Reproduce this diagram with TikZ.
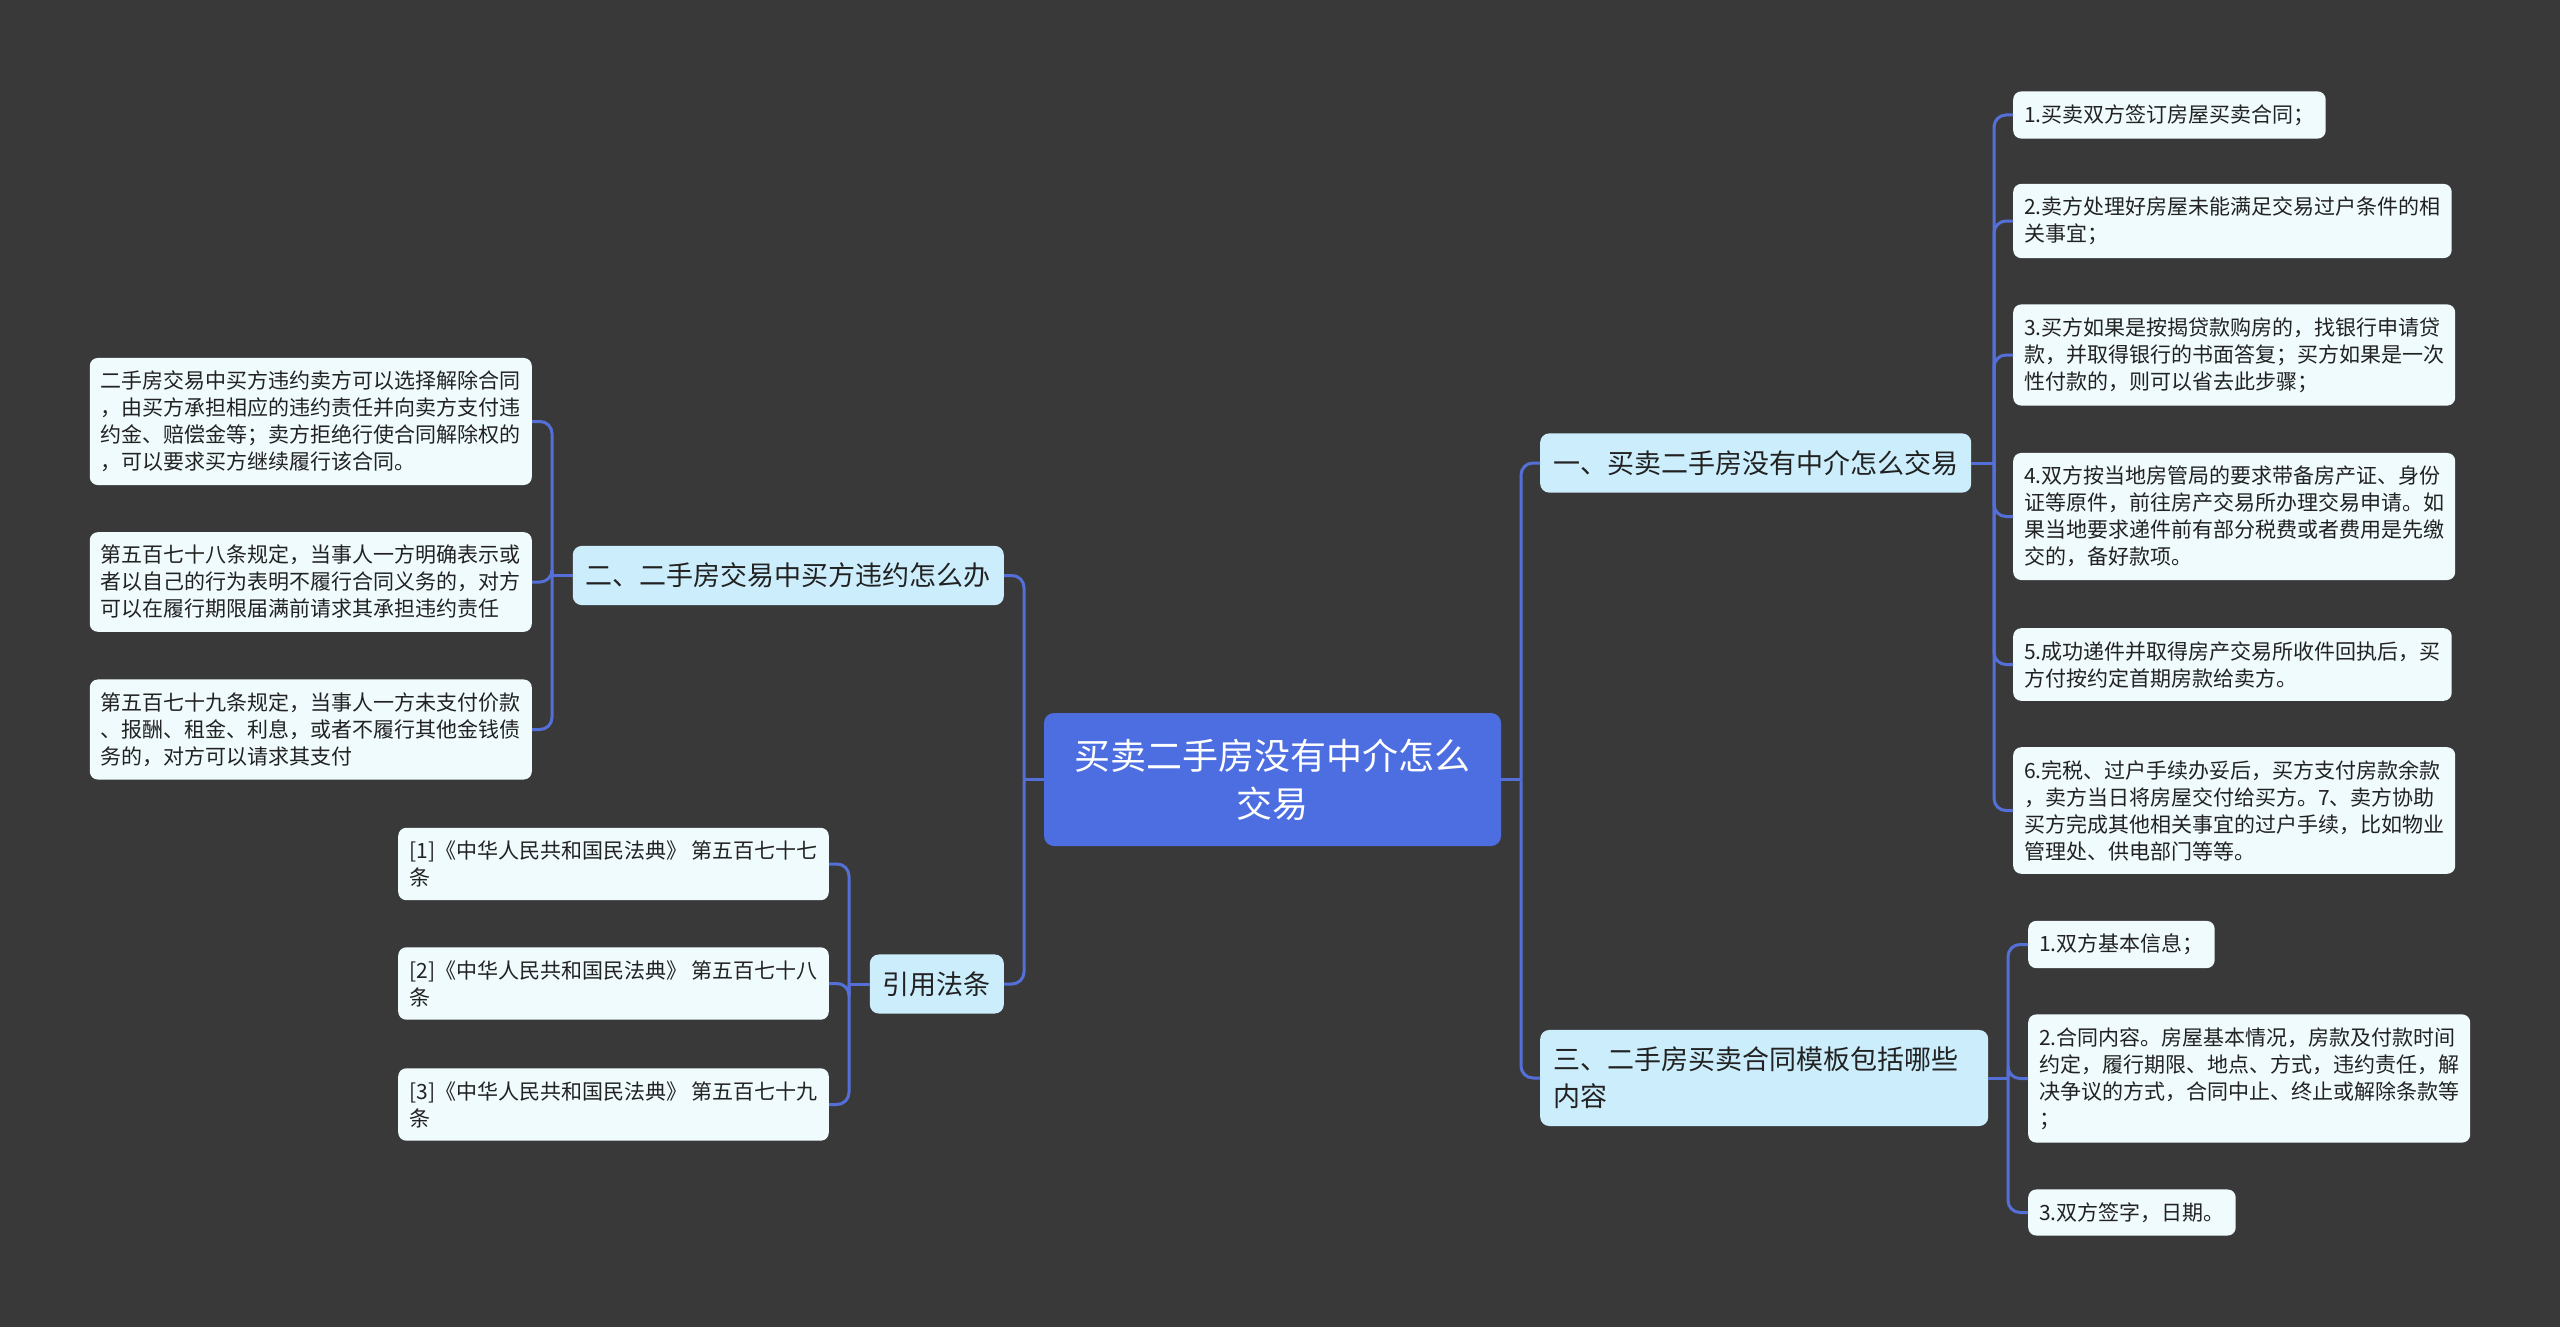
\documentclass[tikz,border=0pt]{standalone}
\usepackage{fontspec}
\setmainfont{Noto Sans CJK SC}
\usepackage{tikz}
\usetikzlibrary{positioning}
\definecolor{mapBg}{RGB}{58,57,58}
\definecolor{mapRoot}{RGB}{77,110,224}
\definecolor{mapBranch}{RGB}{204,238,252}
\definecolor{mapLeaf}{RGB}{240,251,253}
\definecolor{mapLine}{RGB}{84,112,216}
\definecolor{mapInk}{RGB}{34,34,34}

\begin{document}
\begin{tikzpicture}[
    x=1pt, y=-1pt,
    root/.style   = {rounded corners=10pt, fill=mapRoot, text=white,
                     align=center, font=\fontsize{36}{48}\selectfont,
                     minimum width=457pt, minimum height=133pt},
    branch/.style = {rounded corners=9pt, fill=mapBranch, text=mapInk,
                     align=left, font=\fontsize{27}{37}\selectfont,
                     inner xsep=13pt, inner ysep=17pt},
    leaf/.style   = {rounded corners=8pt, fill=mapLeaf, text=mapInk,
                     align=left, font=\fontsize{21}{27}\selectfont,
                     inner xsep=11pt, inner ysep=13pt},
    link/.style   = {draw=mapLine, line width=3pt, rounded corners=12pt}
]

% canvas
\fill[mapBg] (0,0) rectangle (2560,1327);
\useasboundingbox (0,0) rectangle (2560,1327);

% root and the four main topics
\node[root] (root) at (1272.5,779.5) {买卖二手房没有中介怎么\\交易};
\node[branch, anchor=west] (b1) at (1540,463) {一、买卖二手房没有中介怎么交易};
\node[branch, anchor=west, text width=422pt] (b3) at (1540,1078) {三、二手房买卖合同模板包括哪些\\内容};
\node[branch, anchor=east] (b2) at (1004,575.5) {二、二手房交易中买方违约怎么办};
\node[branch, anchor=east] (b4) at (1004,984) {引用法条};

% leaves of topic one
\node[leaf, anchor=west] (l11) at (2013,115) {1.买卖双方签订房屋买卖合同；};
\node[leaf, anchor=west] (l12) at (2013,221) {2.卖方处理好房屋未能满足交易过户条件的相\\关事宜；};
\node[leaf, anchor=west] (l13) at (2013,355) {3.买方如果是按揭贷款购房的，找银行申请贷\\款，并取得银行的书面答复；买方如果是一次\\性付款的，则可以省去此步骤；};
\node[leaf, anchor=west] (l14) at (2013,516.5) {4.双方按当地房管局的要求带备房产证、身份\\证等原件，前往房产交易所办理交易申请。如\\果当地要求递件前有部分税费或者费用是先缴\\交的，备好款项。};
\node[leaf, anchor=west] (l15) at (2013,664.5) {5.成功递件并取得房产交易所收件回执后，买\\方付按约定首期房款给卖方。};
\node[leaf, anchor=west] (l16) at (2013,810.5) {6.完税、过户手续办妥后，买方支付房款余款\\，卖方当日将房屋交付给买方。7、卖方协助\\买方完成其他相关事宜的过户手续，比如物业\\管理处、供电部门等等。};

% leaves of topic three
\node[leaf, anchor=west] (l31) at (2028,944.5) {1.双方基本信息；};
\node[leaf, anchor=west] (l32) at (2028,1078.5) {2.合同内容。房屋基本情况，房款及付款时间\\约定，履行期限、地点、方式，违约责任，解\\决争议的方式，合同中止、终止或解除条款等\\；};
\node[leaf, anchor=west] (l33) at (2028,1212.5) {3.双方签字，日期。};

% leaves of topic two
\node[leaf, anchor=east] (l21) at (532,421.5) {二手房交易中买方违约卖方可以选择解除合同\\，由买方承担相应的违约责任并向卖方支付违\\约金、赔偿金等；卖方拒绝行使合同解除权的\\，可以要求买方继续履行该合同。};
\node[leaf, anchor=east] (l22) at (532,582) {第五百七十八条规定，当事人一方明确表示或\\者以自己的行为表明不履行合同义务的，对方\\可以在履行期限届满前请求其承担违约责任};
\node[leaf, anchor=east] (l23) at (532,729.5) {第五百七十九条规定，当事人一方未支付价款\\、报酬、租金、利息，或者不履行其他金钱债\\务的，对方可以请求其支付};

% cited articles
\node[leaf, anchor=east] (l41) at (829,864) {[1]《中华人民共和国民法典》 第五百七十七\\条};
\node[leaf, anchor=east] (l42) at (829,983.5) {[2]《中华人民共和国民法典》 第五百七十八\\条};
\node[leaf, anchor=east] (l43) at (829,1104.5) {[3]《中华人民共和国民法典》 第五百七十九\\条};

% trunk positions
\coordinate (tR) at (1521,0);
\coordinate (tL) at (1024,0);
\coordinate (t1) at (1994,0);
\coordinate (t3) at (2008,0);
\coordinate (t2) at (552,0);
\coordinate (t4) at (849,0);

% root to topics
\draw[link] (root.east) -- (root.east -| tR);
\draw[link] (root.east -| tR) |- (b1.west);
\draw[link] (root.east -| tR) |- (b3.west);
\draw[link] (root.west) -- (root.west -| tL);
\draw[link] (root.west -| tL) |- (b2.east);
\draw[link] (root.west -| tL) |- (b4.east);

% topic one
\draw[link] (b1.east) -- (b1.east -| t1);
\foreach \n in {l11,l12,l13,l14,l15,l16}
  \draw[link] (b1.east -| t1) |- (\n.west);

% topic three
\draw[link] (b3.east) -- (b3.east -| t3);
\foreach \n in {l31,l32,l33}
  \draw[link] (b3.east -| t3) |- (\n.west);

% topic two
\draw[link] (b2.west) -- (b2.west -| t2);
\foreach \n in {l21,l22,l23}
  \draw[link] (b2.west -| t2) |- (\n.east);

% cited articles
\draw[link] (b4.west) -- (b4.west -| t4);
\foreach \n in {l41,l42,l43}
  \draw[link] (b4.west -| t4) |- (\n.east);

\end{tikzpicture}
\end{document}
